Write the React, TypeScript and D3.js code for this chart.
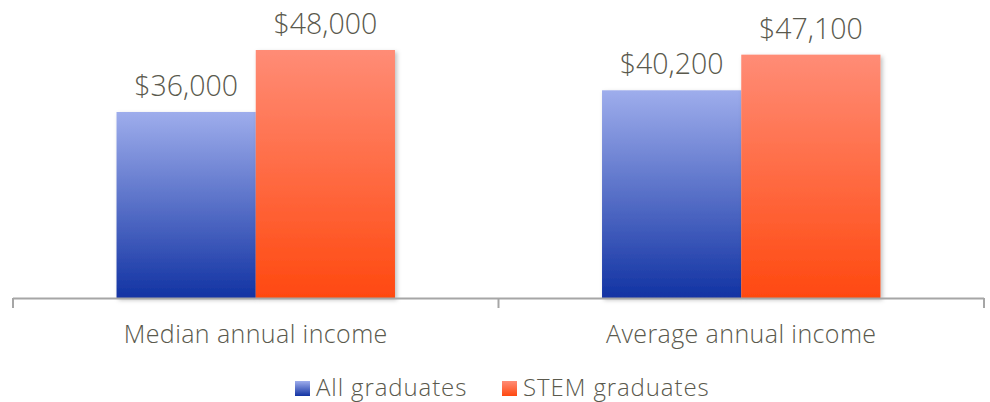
import React from "react";
import * as d3 from "d3";

const categories = ["Median annual income", "Average annual income"];
const seriesNames = ["All graduates", "STEM graduates"];
const allGraduates = [36000, 40200];
const stemGraduates = [48000, 47100];

const W = 990;
const H = 402;
const textColor = "#5a594d";
const font = "'Open Sans', sans-serif";

export default function App() {
  const x = d3.scaleBand<string>().domain(categories).range([13, 984]).paddingInner(0).paddingOuter(0);
  const x1 = d3.scaleBand<string>().domain(seriesNames).range([0, x.bandwidth()]).paddingOuter(0.7436).paddingInner(0);
  const y = d3.scaleLinear().domain([0, 60000]).range([298, -12]);
  const fmt = (v: number) => "$" + d3.format(",")(v);
  const series = [
    { name: seriesNames[0], values: allGraduates, grad: "gBlue" },
    { name: seriesNames[1], values: stemGraduates, grad: "gOrange" },
  ];
  const ticks = [13, ...categories.map((c) => (x(c) as number) + x.bandwidth())];
  return (
    <svg width={W} height={H} style={{ display: "block", position: "absolute", left: 0, top: 0 }}>
      <defs>
        <linearGradient id="gBlue" x1="0" y1="0" x2="0" y2="1">
          <stop offset="0" stopColor="#9eadec" />
          <stop offset="1" stopColor="#1233a3" />
        </linearGradient>
        <linearGradient id="gOrange" x1="0" y1="0" x2="0" y2="1">
          <stop offset="0" stopColor="#ff8c76" />
          <stop offset="1" stopColor="#ff4910" />
        </linearGradient>
        <filter id="shadow" x="-10%" y="-10%" width="130%" height="130%">
          <feDropShadow dx="2" dy="2" stdDeviation="2" floodColor="#000" floodOpacity="0.25" />
        </filter>
      </defs>
      {categories.map((c, ci) => (
        <g key={c} transform={`translate(${x(c)},0)`}>
          {series.map((s) => (
            <rect
              key={s.name}
              x={x1(s.name)}
              y={y(s.values[ci])}
              width={x1.bandwidth()}
              height={y(0) - y(s.values[ci])}
              fill={`url(#${s.grad})`}
              filter="url(#shadow)"
            />
          ))}
          {series.map((s) => (
            <text
              key={s.name + "l"}
              x={(x1(s.name) as number) + x1.bandwidth() / 2}
              y={y(s.values[ci]) - 16}
              textAnchor="middle"
              fontFamily={font}
              fontSize={28.5}
              fontWeight={300}
              fill={textColor}
            >
              {fmt(s.values[ci])}
            </text>
          ))}
          <text
            x={x.bandwidth() / 2}
            y={343}
            textAnchor="middle"
            fontFamily={font}
            fontSize={25}
            fontWeight={300}
            letterSpacing={0.4}
            fill={textColor}
          >
            {c}
          </text>
        </g>
      ))}
      <line x1={13} x2={984} y1={298.5} y2={298.5} stroke="#a6a6a6" strokeWidth={2} />
      {ticks.map((t, i) => (
        <line key={i} x1={t} x2={t} y1={298} y2={308} stroke="#a6a6a6" strokeWidth={2} />
      ))}
      <g transform="translate(295,381)">
        <rect x={0} y={0} width={15} height={15} fill="url(#gBlue)" />
        <text x={21} y={15} fontFamily={font} fontSize={24} fontWeight={300} letterSpacing={0.9} fill={textColor}>{seriesNames[0]}</text>
        <rect x={207} y={0} width={15} height={15} fill="url(#gOrange)" />
        <text x={228} y={15} fontFamily={font} fontSize={24} fontWeight={300} letterSpacing={0.9} fill={textColor}>{seriesNames[1]}</text>
      </g>
    </svg>
  );
}
